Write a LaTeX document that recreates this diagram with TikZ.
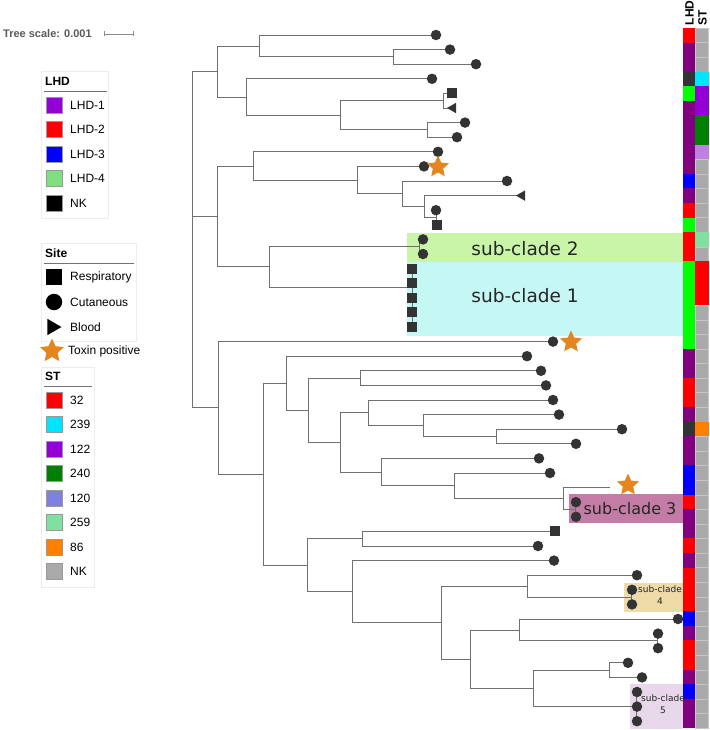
\documentclass[tikz,border=0pt]{standalone}
\usepackage{fontspec}
\setmainfont{Liberation Sans}
\newfontfamily\dejavu{DejaVu Sans}
\usetikzlibrary{shapes.geometric}
\definecolor{treec}{HTML}{707070}
\definecolor{mk}{HTML}{333333}
\definecolor{starc}{HTML}{E3861F}
\definecolor{lhdR}{HTML}{FF0000}
\definecolor{lhdP}{HTML}{800080}
\definecolor{lhdK}{HTML}{333333}
\definecolor{lhdG}{HTML}{00FF00}
\definecolor{lhdB}{HTML}{0000FF}
\definecolor{stN}{HTML}{AAAAAA}
\definecolor{stC}{HTML}{00E5FF}
\definecolor{stV}{HTML}{9400D3}
\definecolor{stD}{HTML}{008000}
\definecolor{stL}{HTML}{C080E0}
\definecolor{stM}{HTML}{80E0A0}
\definecolor{stR}{HTML}{FF0000}
\definecolor{stO}{HTML}{FF8000}
\definecolor{stNln}{HTML}{C6C6C6}
\colorlet{stCln}{stC}
\colorlet{stVln}{stV}
\colorlet{stDln}{stD}
\colorlet{stLln}{stL}
\colorlet{stMln}{stM}
\colorlet{stRln}{stR}
\colorlet{stOln}{stO}
\definecolor{legP}{HTML}{9400D3}
\definecolor{legG}{HTML}{80E080}
\definecolor{legLV}{HTML}{8080E0}
\definecolor{scA}{HTML}{C9F5A8}
\definecolor{scB}{HTML}{C5F8F5}
\definecolor{scC}{HTML}{C47CA6}
\definecolor{scD}{HTML}{EEDBA8}
\definecolor{scE}{HTML}{E8D6EA}
\tikzset{
  branch/.style={draw=treec, line width=0.9pt},
  leafcirc/.style={circle, fill=mk, inner sep=0pt, minimum size=10.5pt},
  leafsq/.style={rectangle, fill=mk, inner sep=0pt, minimum size=10pt},
  leaftri/.style={regular polygon, regular polygon sides=3, shape border rotate=90, fill=mk, inner sep=0pt, minimum size=12pt},
  toxstar/.style={star, star points=5, star point ratio=2.1, fill=starc, inner sep=0pt, minimum size=23pt},
  legbox/.style={draw=black!7, line width=0.6pt},
  legsq/.style={rectangle, draw=black!40, line width=0.4pt, inner sep=0pt, minimum size=16pt},
  legtxt/.style={anchor=west, inner sep=0pt, font=\fontsize{12}{14}\selectfont},
  legtitle/.style={anchor=west, inner sep=0pt, font=\fontsize{12}{14}\selectfont\bfseries},
  sclab/.style={inner sep=0pt, text=black!85, font=\dejavu\fontsize{18.5}{20}\selectfont},
}
\begin{document}
\begin{tikzpicture}[x=1pt,y=-1pt]
\useasboundingbox (0,0) rectangle (709,730);

% tree scale
\node[anchor=west, inner sep=0pt, text=black!65, font=\fontsize{11}{13}\selectfont\bfseries] (ts) at (3,34) {Tree scale: 0.001};
\coordinate (sb1) at (104,34);
\coordinate (sb2) at (133,34);
\draw[black!45, line width=0.7pt] (sb1) -- (sb2);
\draw[black!45, line width=0.7pt] ([yshift=-2.5pt]sb1) -- ([yshift=2.5pt]sb1) ([yshift=-2.5pt]sb2) -- ([yshift=2.5pt]sb2);

% sub-clade backgrounds
\fill[scA] (407,233) rectangle (683,262);
\fill[scB] (407,262) rectangle (683,336);
\fill[scC] (569,494) rectangle (683,523);
\fill[scD] (624,583) rectangle (683,612);
\fill[scE] (630,684) rectangle (683,729);

% colour strips
\foreach \c [count=\i] in {R,P,P,K,G,P,P,P,P,P,B,P,R,G,R,R,G,G,G,G,G,G,P,P,R,R,P,K,P,P,B,B,R,P,P,R,P,R,R,R,B,P,R,R,P,B,P,P}
  \fill[color=lhd\c] (683,{28+(\i-1)*14.583}) rectangle (695,{28+\i*14.583});
\foreach \c [count=\i] in {N,N,N,C,V,V,D,D,L,N,N,N,N,N,M,N,R,R,R,N,N,N,N,N,N,N,N,O,N,N,N,N,N,N,N,N,N,N,N,N,N,N,N,N,N,N,N,N}
  \filldraw[fill=st\c, draw=st\c ln, line width=0.3pt] (695.5,{28+(\i-1)*14.583}) rectangle (708,{28+\i*14.583});
\node[rotate=90, anchor=west, inner sep=0pt, font=\fontsize{12}{14}\selectfont\bfseries] (hl) at (689.5,25.5) {LHD};
\node[rotate=90, anchor=west, inner sep=0pt, font=\fontsize{12}{14}\selectfont\bfseries] (hs) at (702.5,25.5) {ST};

% internal nodes
\coordinate (R) at (192,240);
\coordinate (A) at (217,71.5);
\coordinate (A1) at (259,46);
\coordinate (A1b) at (393,56.9);
\coordinate (A2) at (246,97);
\coordinate (A2b) at (340,115.3);
\coordinate (N56) at (443,100.7);
\coordinate (N78) at (427,129.9);
\coordinate (C) at (217,216.4);
\coordinate (C1) at (253,166);
\coordinate (C1b) at (357,180.1);
\coordinate (C1c) at (402,193.8);
\coordinate (C1d) at (424,206.6);
\coordinate (N1314) at (436,217.5);
\coordinate (C2) at (269,266.9);
\coordinate (SC2) at (419,246.7);
\coordinate (SC1) at (412,287);
\coordinate (B) at (218,407.9);
\coordinate (B2) at (263,474.2);
\coordinate (B3) at (286,383.2);
\coordinate (B3b) at (308,410.3);
\coordinate (N2425) at (360,378.1);
\coordinate (B3c) at (340,442.5);
\coordinate (B3d) at (368,412.8);
\coordinate (B3f) at (423,425.6);
\coordinate (N2829) at (496,436.5);
\coordinate (B3e) at (381,472.1);
\coordinate (B3g) at (454,485.8);
\coordinate (B3h) at (563,498.6);
\coordinate (N3334) at (575,509.5);
\coordinate (B4) at (307,565.2);
\coordinate (B4a) at (362,538.7);
\coordinate (B4b) at (352,591.7);
\coordinate (B4c) at (441,622.7);
\coordinate (B4d) at (527,586.2);
\coordinate (SC4) at (631,597.1);
\coordinate (B4e) at (470,659.2);
\coordinate (B4f) at (519,629.95);
\coordinate (N4243) at (657,640.9);
\coordinate (B4g) at (533,688.4);
\coordinate (N4445) at (609,670.1);
\coordinate (SC5) at (636,706.6);

% leaves
\coordinate (L1) at (436,35);
\coordinate (L2) at (450,49.6);
\coordinate (L3) at (476,64.2);
\coordinate (L4) at (432,78.8);
\coordinate (L5) at (452,93.4);
\coordinate (L6) at (453,108);
\coordinate (L7) at (465,122.6);
\coordinate (L8) at (457,137.2);
\coordinate (L9) at (438,151.8);
\coordinate (L10) at (424,166.4);
\coordinate (L11) at (507,181);
\coordinate (L12) at (522,195.6);
\coordinate (L13) at (436,210.2);
\coordinate (L14) at (437,224.8);
\coordinate (L15) at (423,239.4);
\coordinate (L16) at (423,254);
\coordinate (L17) at (412,268.6);
\coordinate (L18) at (412,283.2);
\coordinate (L19) at (412,297.8);
\coordinate (L20) at (412,312.4);
\coordinate (L21) at (412,327);
\coordinate (L22) at (553,341.6);
\coordinate (L23) at (527,356.2);
\coordinate (L24) at (541,370.8);
\coordinate (L25) at (546,385.4);
\coordinate (L26) at (553,400);
\coordinate (L27) at (559,414.6);
\coordinate (L28) at (622,429.2);
\coordinate (L29) at (576,443.8);
\coordinate (L30) at (539,458.4);
\coordinate (L31) at (550,473);
\coordinate (L32) at (610,487.6);
\coordinate (L33) at (576,502.2);
\coordinate (L34) at (576,516.8);
\coordinate (L35) at (555,531.4);
\coordinate (L36) at (538,546);
\coordinate (L37) at (554,560.6);
\coordinate (L38) at (637,575.2);
\coordinate (L39) at (632,589.8);
\coordinate (L40) at (632,604.4);
\coordinate (L41) at (678,619);
\coordinate (L42) at (658,633.6);
\coordinate (L43) at (658,648.2);
\coordinate (L44) at (628,662.8);
\coordinate (L45) at (642,677.4);
\coordinate (L46) at (637,692);
\coordinate (L47) at (637,706.6);
\coordinate (L48) at (637,721.2);

% branches
\draw[branch] (R) |- (A) (R) |- (C) (R) |- (B);
\draw[branch] (A) |- (A1) (A) |- (A2);
\draw[branch] (A1) |- (L1) (A1) |- (A1b);
\draw[branch] (A1b) |- (L2) (A1b) |- (L3);
\draw[branch] (A2) |- (L4) (A2) |- (A2b);
\draw[branch] (A2b) |- (N56) (A2b) |- (N78);
\draw[branch] (N56) |- (L5) (N56) |- (L6);
\draw[branch] (N78) |- (L7) (N78) |- (L8);
\draw[branch] (C) |- (C1) (C) |- (C2);
\draw[branch] (C1) |- (L9) (C1) |- (C1b);
\draw[branch] (C1b) |- (L10) (C1b) |- (C1c);
\draw[branch] (C1c) |- (L11) (C1c) |- (C1d);
\draw[branch] (C1d) |- (L12) (C1d) |- (N1314);
\draw[branch] (N1314) |- (L13) (N1314) |- (L14);
\draw[branch] (C2) |- (SC2) (C2) |- (SC1);
\draw[branch] (SC2) |- (L15) (SC2) |- (L16);
\draw[branch] (SC1) |- (L17) (SC1) |- (L21);
\draw[branch] (B) |- (L22) (B) |- (B2);
\draw[branch] (B2) |- (B3) (B2) |- (B4);
\draw[branch] (B3) |- (L23) (B3) |- (B3b);
\draw[branch] (B3b) |- (N2425) (B3b) |- (B3c);
\draw[branch] (N2425) |- (L24) (N2425) |- (L25);
\draw[branch] (B3c) |- (B3d) (B3c) |- (B3e);
\draw[branch] (B3d) |- (L26) (B3d) |- (B3f);
\draw[branch] (B3f) |- (L27) (B3f) |- (N2829);
\draw[branch] (N2829) |- (L28) (N2829) |- (L29);
\draw[branch] (B3e) |- (L30) (B3e) |- (B3g);
\draw[branch] (B3g) |- (L31) (B3g) |- (B3h);
\draw[branch] (B3h) |- (L32) (B3h) |- (N3334);
\draw[branch] (N3334) |- (L33) (N3334) |- (L34);
\draw[branch] (B4) |- (B4a) (B4) |- (B4b);
\draw[branch] (B4a) |- (L35) (B4a) |- (L36);
\draw[branch] (B4b) |- (L37) (B4b) |- (B4c);
\draw[branch] (B4c) |- (B4d) (B4c) |- (B4e);
\draw[branch] (B4d) |- (L38) (B4d) |- (SC4);
\draw[branch] (SC4) |- (L39) (SC4) |- (L40);
\draw[branch] (B4e) |- (B4f) (B4e) |- (B4g);
\draw[branch] (B4f) |- (L41) (B4f) |- (N4243);
\draw[branch] (N4243) |- (L42) (N4243) |- (L43);
\draw[branch] (B4g) |- (N4445) (B4g) |- (SC5);
\draw[branch] (N4445) |- (L44) (N4445) |- (L45);
\draw[branch] (SC5) |- (L46) (SC5) |- (L48);

% markers
\foreach \i in {1,2,3,4,7,8,9,10,11,13,15,16,22,23,24,25,26,27,28,29,30,31,33,34,36,37,38,39,40,41,42,43,44,45,46,47,48}
  \node[leafcirc] (m\i) at (L\i) {};
\foreach \i in {5,14,17,18,19,20,21,35}
  \node[leafsq] (m\i) at (L\i) {};
\foreach \i in {6,12}
  \node[leaftri] (m\i) at (L\i) {};
\node[toxstar] (s10) at (438,167) {};
\node[toxstar] (s22) at (571,342) {};
\node[toxstar] (s32) at (628,485) {};

% sub-clade labels
\node[sclab] (t2) at (525,249) {sub-clade 2};
\node[sclab] (t1) at (525,296) {sub-clade 1};
\node[sclab, font=\dejavu\fontsize{16}{18}\selectfont] (t3) at (630,509) {sub-clade 3};
\node[inner sep=0pt, align=center, text=black!85, font=\dejavu\fontsize{9}{12}\selectfont] (t4) at (660,595) {sub-clade\\4};
\node[inner sep=0pt, align=center, text=black!85, font=\dejavu\fontsize{9}{12}\selectfont] (t5) at (663,704) {sub-clade\\5};

% LHD legend
\draw[legbox] (41,71) rectangle (108,218);
\node[legtitle] (lt1) at (45,81) {LHD};
\draw[black!55, line width=0.7pt] (44,91) -- (107,91);
\foreach \c/\t [count=\k] in {legP/LHD-1,lhdR/LHD-2,lhdB/LHD-3,legG/LHD-4,black/NK} {
  \node[legsq, fill=\c] (lq\k) at (54,{105+(\k-1)*24.5}) {};
  \node[legtxt] (lx\k) at (70,{105+(\k-1)*24.5}) {\t};
}

% Site legend
\draw[legbox] (41,243) rectangle (136,341);
\node[legtitle] (lt2) at (45,253) {Site};
\draw[black!55, line width=0.7pt] (44,263) -- (134,263);
\node[rectangle, fill=black, inner sep=0pt, minimum size=16pt] (sq1) at (54,277) {};
\node[legtxt] (sx1) at (70,277) {Respiratory};
\node[circle, fill=black, inner sep=0pt, minimum size=16.5pt] (sq2) at (54,302) {};
\node[legtxt] (sx2) at (70,302) {Cutaneous};
\node[regular polygon, regular polygon sides=3, shape border rotate=-90, fill=black, inner sep=0pt, minimum size=19pt] (sq3) at (52,327) {};
\node[legtxt] (sx3) at (70,327) {Blood};
\node[toxstar, minimum size=25pt] (sq4) at (52,351) {};
\node[legtxt] (sx4) at (68,351) {Toxin positive};

% ST legend
\draw[legbox] (41,367) rectangle (94,587);
\node[legtitle] (lt3) at (45,376) {ST};
\draw[black!55, line width=0.7pt] (44,386) -- (92,386);
\foreach \c/\t [count=\k] in {stR/32,stC/239,legP/122,stD/240,legLV/120,stM/259,stO/86,stN/NK} {
  \node[legsq, fill=\c] (sl\k) at (54,{400+(\k-1)*24.5}) {};
  \node[legtxt] (st\k) at (70,{400+(\k-1)*24.5}) {\t};
}
\end{tikzpicture}
\end{document}
